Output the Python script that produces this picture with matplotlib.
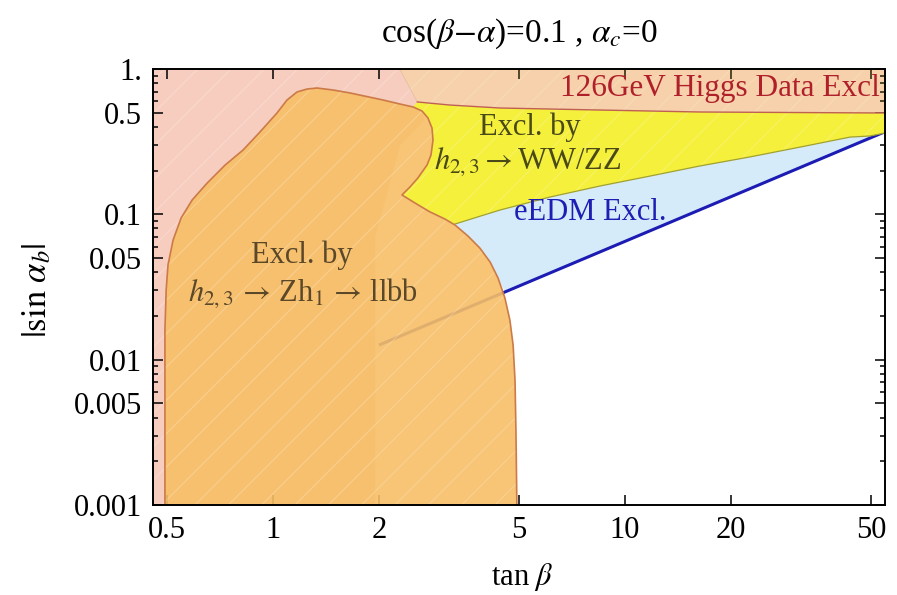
"""Exclusion regions in the (tan beta, |sin alpha_b|) plane."""
import math
import matplotlib
matplotlib.use("Agg")
import matplotlib.pyplot as plt

plt.rcParams["font.family"] = ["Liberation Serif", "DejaVu Serif"]
plt.rcParams["mathtext.fontset"] = "stix"
plt.rcParams["hatch.linewidth"] = 0.8

XMIN, XMAX = 0.456, 54.8
YMIN, YMAX = 0.001, 1.0

# 126 GeV Higgs data exclusion: lower edge on the right (the rest runs under the orange blob)
higgs_x = [2.57, 3.18, 4.41, 8.49, 16.3, XMAX]
higgs_y = [0.593, 0.565, 0.539, 0.522, 0.506, 0.498]
higgs_hidden_x = [1.95, 1.95, 2.3, 2.7]
higgs_hidden_y = [0.001, 0.07, 0.3, 0.45]

# h2,3 -> Z h1 -> llbb exclusion (outline, bottom-left going clockwise)
zh_x = [0.493, 0.493, 0.497, 0.503, 0.520, 0.548, 0.589, 0.650, 0.731, 0.822, 0.918,
        1.026, 1.096, 1.17, 1.249, 1.333, 1.481, 1.655, 2.053, 2.296, 2.50, 2.651,
        2.756, 2.829, 2.848, 2.811, 2.739, 2.58, 2.45, 2.325, 2.532, 2.79, 3.08, 3.29,
        3.58, 3.87, 4.14, 4.36, 4.56, 4.71, 4.81, 4.87, 4.90, 4.93]
zh_y = [0.001, 0.0160, 0.0301, 0.0448, 0.0665, 0.0943, 0.1254, 0.1642, 0.2184, 0.277, 0.3685,
        0.498, 0.612, 0.695, 0.728, 0.740, 0.717, 0.684, 0.612, 0.574, 0.548, 0.514,
        0.460, 0.3926, 0.3245, 0.256, 0.2184, 0.178, 0.1542, 0.136, 0.1196, 0.104, 0.0928, 0.0844,
        0.0709, 0.0586, 0.0469, 0.0364, 0.0265, 0.0187, 0.0126, 0.00724, 0.00328, 0.001]

# h2,3 -> WW/ZZ exclusion: upper-left corner and lower edge
ww_corner_x = [2.29, 2.57]
ww_corner_y = [1.0, 0.593]
ww_low_x = [3.29, 4.41, 6.12, 8.49, 11.8, 16.3, 22.6, 31.4, 43.6, 49.7, XMAX]
ww_low_y = [0.0858, 0.107, 0.1315, 0.1566, 0.1835, 0.215, 0.248, 0.290, 0.340, 0.346, 0.363]

# eEDM bound (straight line in log-log)
edm_x = [2.0, XMAX]
edm_y = [0.0126, 0.37]


def edm(x):
    p = math.log(edm_y[1] / edm_y[0]) / math.log(edm_x[1] / edm_x[0])
    return edm_y[0] * (x / edm_x[0]) ** p


fig = plt.figure(figsize=(8.97, 5.95), dpi=100)
ax = fig.add_axes([153 / 897, 1 - 505 / 595, 732 / 897, 436 / 595])
ax.set_xscale("log")
ax.set_yscale("log")
ax.set_xlim(XMIN, XMAX)
ax.set_ylim(YMIN, YMAX)

mesh = (1, 1, 1, 0.22)

# pink: Higgs data
pink_x = [XMIN, XMIN] + higgs_hidden_x + higgs_x + [XMAX]
pink_y = [YMAX, YMIN] + higgs_hidden_y + higgs_y + [YMAX]
ax.fill(pink_x, pink_y, color="#F7CDBF", lw=0, zorder=1)
ax.fill(pink_x, pink_y, facecolor="none", edgecolor=mesh, hatch="/", lw=0, zorder=1.05)

# overlap of pink and yellow on the top band
band_x = ww_corner_x + higgs_x[1:] + [XMAX]
band_y = ww_corner_y + higgs_y[1:] + [YMAX]
ax.fill(band_x, band_y, color="#F5EE3C", alpha=0.15, lw=0, zorder=2)
ax.plot(ww_corner_x, ww_corner_y, color="#E8BFA0", lw=0.6, zorder=2)

i_top = zh_x.index(2.50)
i_ww = zh_x.index(3.29)
i_edm = zh_x.index(4.56)

# light blue: eEDM
blue_x = [zh_x[i_edm], XMAX, XMAX] + ww_low_x[::-1] + zh_x[i_ww:i_edm]
blue_y = [edm(zh_x[i_edm]), edm(XMAX), ww_low_y[-1]] + ww_low_y[::-1] + zh_y[i_ww:i_edm]
ax.fill(blue_x, blue_y, color="#D6EBFA", lw=0, zorder=1.5)
ax.plot(edm_x, edm_y, color="#1C1CB4", lw=2.2, zorder=2.5, solid_capstyle="butt")

# yellow: WW/ZZ
yel_x = higgs_x + ww_low_x[::-1] + zh_x[i_ww:i_top - 1:-1]
yel_y = higgs_y + ww_low_y[::-1] + zh_y[i_ww:i_top - 1:-1]
ax.fill(yel_x, yel_y, color="#F5F03C", lw=0, zorder=3)
ax.fill(yel_x, yel_y, facecolor="none", edgecolor=mesh, hatch="/", lw=0, zorder=3.05)
ax.plot(ww_low_x, ww_low_y, color="#A0A030", lw=0.9, zorder=3.1)
ax.plot(higgs_x, higgs_y, color="#C06055", lw=1.0, zorder=3.2)

# orange: Zh -> llbb
ax.fill(zh_x, zh_y, color="#F7BF66", alpha=0.9, lw=0, zorder=4)
ax.fill(zh_x, zh_y, facecolor="none", edgecolor=mesh, hatch="/", lw=0, zorder=4.05)
ax.plot(zh_x, zh_y, color="#CC7A48", lw=1.2, zorder=4.1)

fs = 22
ax.text(1.209, 0.0525, "Excl. by", color="#5A4828", fontsize=fs, ha="center", va="center", zorder=6)
ax.text(1.217, 0.0287, r"$h_{2,3}\,\rightarrow\,$Zh$_1\,\rightarrow\,$llbb", color="#5A4828",
        fontsize=fs, ha="center", va="center", zorder=6)
ax.text(5.37, 0.399, "Excl. by", color="#4A4A18", fontsize=fs, ha="center", va="center", zorder=6)
ax.text(5.27, 0.229, r"$h_{2,3}\rightarrow$WW/ZZ", color="#4A4A18", fontsize=fs,
        ha="center", va="center", zorder=6)
ax.text(7.95, 0.1037, "eEDM Excl.", color="#1E1EB4", fontsize=fs, ha="center", va="center", zorder=6)
ax.text(53.0, 0.74, "126GeV Higgs Data Excl", color="#B0202A", fontsize=22.5, ha="right",
        va="center", zorder=6)

# ticks
xt = [0.5, 1, 2, 5, 10, 20, 50]
xtl = ["0.5", "1", "2", "5", "10", "20", "50"]
yt = [0.001, 0.005, 0.01, 0.05, 0.1, 0.5, 1.0]
ytl = ["0.001", "0.005", "0.01", "0.05", "0.1", "0.5", "1."]
ax.set_xticks(xt, xtl)
ax.set_yticks(yt, ytl)
ax.xaxis.set_minor_locator(matplotlib.ticker.NullLocator())
ax.yaxis.set_minor_locator(matplotlib.ticker.LogLocator(subs=range(2, 10)))
ax.yaxis.set_minor_formatter(matplotlib.ticker.NullFormatter())
ax.tick_params(which="both", direction="in", top=True, right=True, labelsize=22, width=1.1)
ax.tick_params(which="major", length=7, pad=8)
ax.tick_params(which="minor", length=3.5)
for s in ax.spines.values():
    s.set_linewidth(1.4)
    s.set_zorder(10)

ax.set_xlabel(r"tan $\beta$", fontsize=22)
ax.xaxis.set_label_coords(0.504, -0.128)
ax.set_ylabel(r"$|\sin\,\alpha_b|$", fontsize=25)
ax.yaxis.set_label_coords(-0.135, 0.493)
ax.set_title(r"cos($\beta$$-$$\alpha$)=0.1 , $\alpha_c$=0", fontsize=24, y=1.062, pad=0)

fig.savefig("out.png", dpi=100)
